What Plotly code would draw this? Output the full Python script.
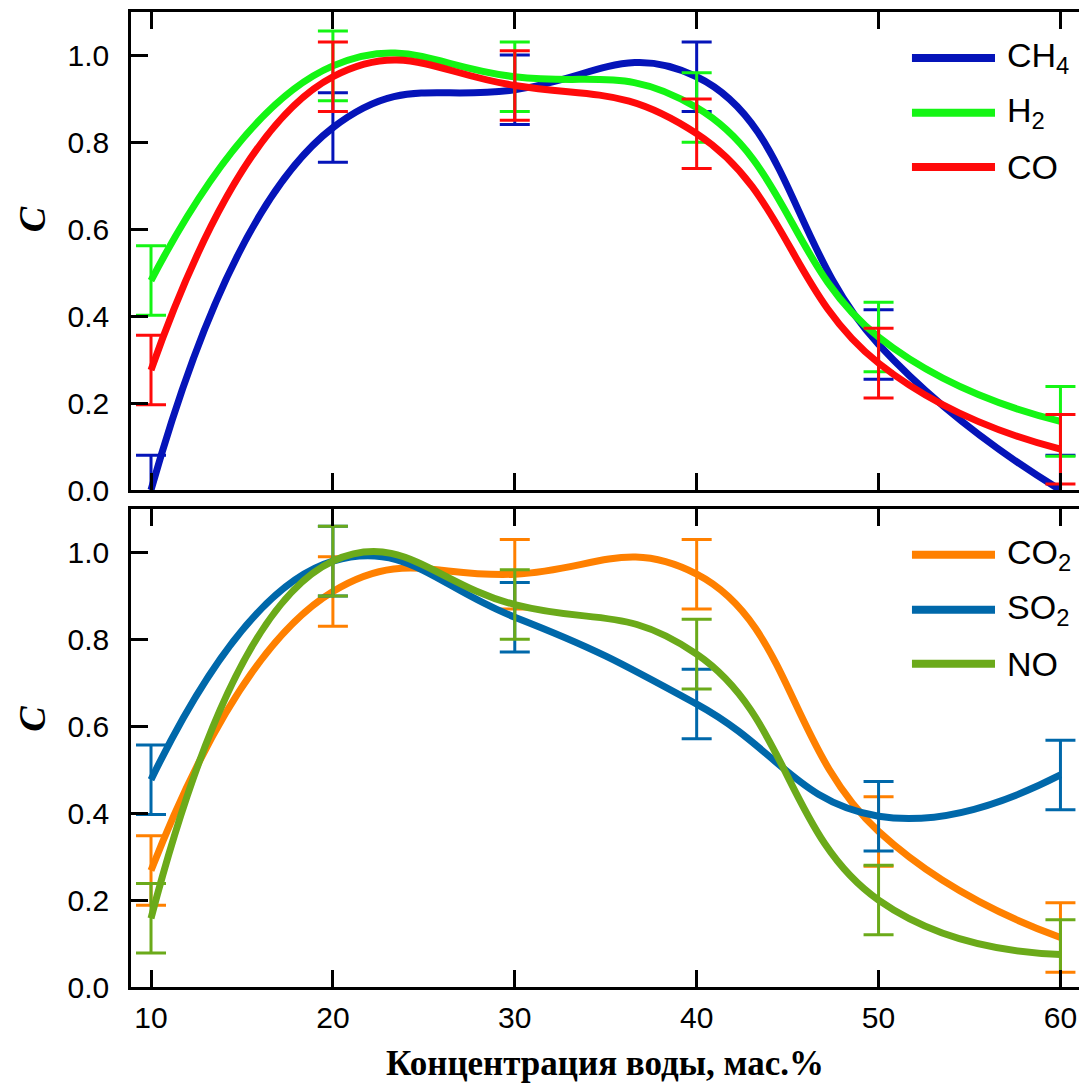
import plotly.graph_objects as go
from plotly.subplots import make_subplots

# ---- data ----
x_water = [10, 20, 30, 40, 50, 60]

ch4 = [0.00, 0.834, 0.921, 0.951, 0.335, 0.00]
ch4_err = [0.08, 0.08, 0.08, 0.08, 0.08, 0.08]
h2 = [0.482, 0.976, 0.951, 0.880, 0.352, 0.158]
h2_err = [0.08, 0.08, 0.08, 0.08, 0.08, 0.08]
co = [0.276, 0.951, 0.931, 0.820, 0.292, 0.094]
co_err = [0.08, 0.08, 0.08, 0.08, 0.08, 0.08]

co2 = [0.268, 0.910, 0.950, 0.950, 0.358, 0.114]
co2_err = [0.08, 0.08, 0.08, 0.08, 0.08, 0.08]
so2 = [0.477, 0.980, 0.851, 0.651, 0.393, 0.488]
so2_err = [0.08, 0.08, 0.08, 0.08, 0.08, 0.08]
no = [0.158, 0.980, 0.880, 0.766, 0.200, 0.075]
no_err = [0.08, 0.08, 0.08, 0.08, 0.08, 0.08]

top_names = ["CH<sub>4</sub>", "H<sub>2</sub>", "CO"]
bot_names = ["CO<sub>2</sub>", "SO<sub>2</sub>", "NO"]

top_series = [(ch4, ch4_err, "#0514B9"), (h2, h2_err, "#14F514"), (co, co_err, "#FF0A0A")]
bot_series = [(co2, co2_err, "#FF8000"), (so2, so2_err, "#0068AA"), (no, no_err, "#6BAA1A")]

x_ticks = [10, 20, 30, 40, 50, 60]
y_ticks = [0.0, 0.2, 0.4, 0.6, 0.8, 1.0]
y_tick_text = ["0.0", "0.2", "0.4", "0.6", "0.8", "1.0"]

# ---- figure (page body adds an 8 px offset) ----
W, H = 1075, 1075
ML, MR, MT, MB = 123, 4, 1, 96
fig = make_subplots(rows=2, cols=1, shared_xaxes=True, vertical_spacing=19 / 978)

for row, series in ((1, top_series), (2, bot_series)):
    for vals, err, col in series:
        fig.add_trace(go.Scatter(
            x=x_water, y=vals, mode="lines",
            line=dict(color=col, width=7, shape="spline", smoothing=1.3),
            error_y=dict(type="data", array=err, visible=True, color=col,
                         thickness=3, width=15),
            showlegend=False, hoverinfo="skip"), row=row, col=1)

tick_font = dict(family="Liberation Sans, Arial", size=30, color="black")
axis_common = dict(showgrid=False, zeroline=False, showline=True, linecolor="black",
                   linewidth=2.5, ticks="inside", ticklen=17, tickwidth=2.5,
                   tickcolor="black", tickfont=tick_font)

for r in (1, 2):
    fig.update_xaxes(range=[8.9, 61.02], tickvals=x_ticks, mirror="ticks",
                     ticklabelstandoff=2, **axis_common, row=r, col=1)
    fig.update_yaxes(range=[0, 1.1], tickvals=y_ticks, ticktext=y_tick_text, mirror=True,
                     ticklabelstandoff=13, **axis_common, row=r, col=1)

fig.update_xaxes(showticklabels=False, row=1, col=1)
fig.update_xaxes(title=dict(text="Концентрация воды, мас.%", standoff=22,
                            font=dict(family="Liberation Serif, Times New Roman",
                                      size=35, color="black", weight="bold")), row=2, col=1)

# ---- y-axis titles ("C") ----
title_font = dict(family="Liberation Serif, Times New Roman", size=38, color="black",
                  weight="bold")
for ty in (0.7873, 0.2751):
    fig.add_annotation(xref="paper", yref="paper", x=-0.1045, y=ty, text="<i>C</i>",
                       textangle=-90, showarrow=False, xanchor="center", yanchor="middle",
                       borderpad=0, font=title_font)

# ---- manual legends (line sample + label) ----
legend_y = [0.904, 0.789, 0.676]
for (xref, yref, names, series) in (("x domain", "y domain", top_names, top_series),
                                     ("x2 domain", "y2 domain", bot_names, bot_series)):
    for ly, name, (_, _, col) in zip(legend_y, names, series):
        fig.add_shape(type="line", xref=xref, yref=yref, x0=0.8238, x1=0.9114,
                      y0=ly, y1=ly, line=dict(color=col, width=8))
        fig.add_annotation(xref=xref, yref=yref, x=0.922, y=ly, text=name,
                           showarrow=False, xanchor="left", yanchor="middle",
                           font=dict(family="Liberation Sans, Arial", size=34, color="black"))

fig.update_layout(width=W, height=H, margin=dict(l=ML, r=MR, t=MT, b=MB),
                  plot_bgcolor="white", paper_bgcolor="white", showlegend=False)

fig.write_html("out.html")
